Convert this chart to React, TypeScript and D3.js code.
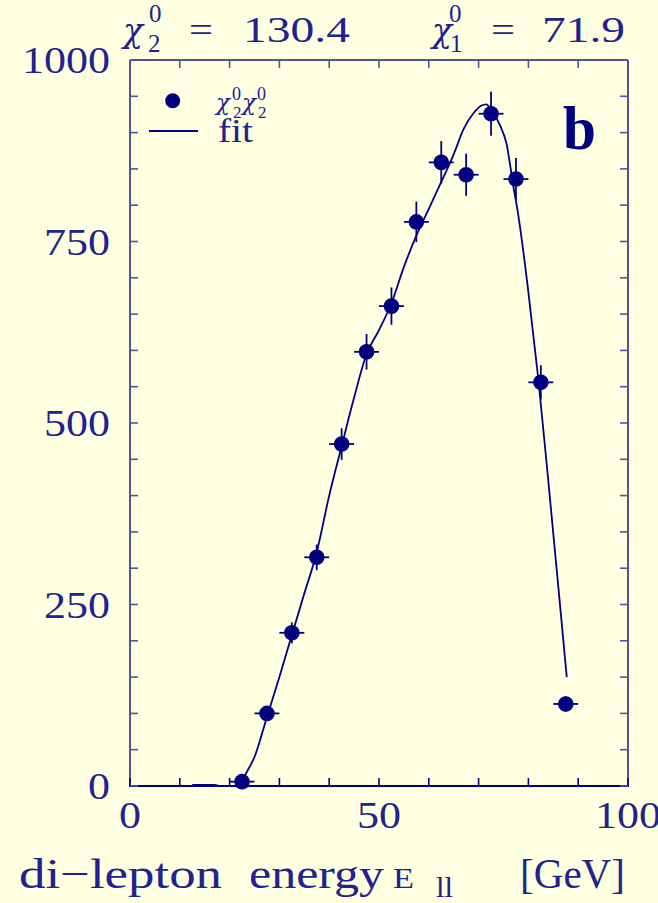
import React from "react";
import * as d3 from "d3";

// Di-lepton energy spectrum for chi2 chi2 production with fitted shape
const binCenters = [22.5, 27.5, 32.5, 37.5, 42.5, 47.5, 52.5, 57.5, 62.5, 67.5, 72.5, 77.5, 82.5, 87.5];
const binCounts = [6, 100, 211, 315, 471, 598, 661, 777, 859, 842, 926, 836, 556, 113];
const binHalfWidth = 2.5;

const fitEnergy = [12.5, 17, 18, 21, 22.5, 23.5, 25, 27.5, 30, 32.5, 35, 37.5, 40, 42.5, 45, 47.5, 50, 52.5, 55, 57.5, 60, 62.5, 65, 67, 69, 70.5, 71.5, 72.5, 74.3, 75.6, 77, 78, 80, 82, 84, 86, 87.7];
const fitCounts = [1.5, 1.5, 0, 0, 8, 20, 40, 95, 150, 208, 265, 322, 400, 468, 535, 595, 628, 665, 715, 758, 795, 832, 870, 905, 927, 937, 939, 932, 910, 885, 825, 785, 680, 560, 420, 275, 150];

const xTickLabels = ["0", "50", "100"];
const yTickLabels = ["0", "250", "500", "750", "1000"];

const W = 658;
const H = 903;
const INK = "#000080";
const TEXT = "#22228f";
const FRAME = "#5252a6";
const SERIF = "'Liberation Serif', 'Times New Roman', serif";
const GREEK = "'DejaVu Serif', serif";

export default function App() {
  const x = d3.scaleLinear().domain([0, 100]).range([130, 628]);
  const y = d3.scaleLinear().domain([0, 1000]).range([786, 60]);

  const fitLine = d3
    .line<number>()
    .x((_, i) => x(fitEnergy[i]))
    .y((d) => y(d))
    .curve(d3.curveMonotoneX)(fitCounts);

  const xMinor = d3.range(0, 101, 10);
  const yMinor = d3.range(0, 1001, 50);
  const tickLen = 8;
  const stretch = "spacingAndGlyphs";

  return (
    <svg
      width={W}
      height={H}
      style={{ position: "absolute", left: 0, top: 0, display: "block" }}
      fontFamily={SERIF}
    >
      <rect x={0} y={0} width={W} height={H} fill="#ffffe1" />

      {/* frame */}
      <line x1={x(0)} x2={x(0)} y1={y(0)} y2={y(1000)} stroke={FRAME} strokeWidth={2} />
      <line x1={x(0)} x2={x(100)} y1={y(1000)} y2={y(1000)} stroke={FRAME} strokeWidth={2} />
      <line x1={x(100)} x2={x(100)} y1={y(0)} y2={y(1000)} stroke={FRAME} strokeWidth={2} />
      <line x1={x(0) - 1} x2={x(100) + 1} y1={y(0)} y2={y(0)} stroke={INK} strokeWidth={2} />

      {/* ticks */}
      {xMinor.map((v) => (
        <g key={"xt" + v}>
          <line x1={x(v)} x2={x(v)} y1={y(0)} y2={y(0) - tickLen} stroke={INK} strokeWidth={1.6} />
          <line x1={x(v)} x2={x(v)} y1={y(1000)} y2={y(1000) + tickLen} stroke={FRAME} strokeWidth={1.6} />
        </g>
      ))}
      {yMinor.map((v) => (
        <g key={"yt" + v}>
          <line x1={x(0)} x2={x(0) + tickLen} y1={y(v)} y2={y(v)} stroke={FRAME} strokeWidth={1.6} />
          <line x1={x(100)} x2={x(100) - tickLen} y1={y(v)} y2={y(v)} stroke={FRAME} strokeWidth={1.6} />
        </g>
      ))}

      {/* tick labels */}
      {yTickLabels.map((t) => (
        <text
          key={"yl" + t}
          x={110}
          y={y(+t) + 13}
          textAnchor="end"
          fontSize={37}
          fill={TEXT}
          textLength={t.length * 22}
          lengthAdjust={stretch}
        >
          {t}
        </text>
      ))}
      {xTickLabels.map((t) => (
        <text
          key={"xl" + t}
          x={x(+t) - (t.length * 22) / 2}
          y={828}
          fontSize={37}
          fill={TEXT}
          textLength={t.length * 22}
          lengthAdjust={stretch}
        >
          {t}
        </text>
      ))}

      {/* axis title */}
      <g fill={TEXT}>
        <text x={19} y={888} fontSize={42} textLength={203} lengthAdjust={stretch}>
          di−lepton
        </text>
        <text x={249} y={888} fontSize={42} textLength={135} lengthAdjust={stretch}>
          energy
        </text>
        <text x={393} y={888} fontSize={30} textLength={21} lengthAdjust={stretch}>
          E
        </text>
        <text x={436} y={897} fontSize={30} textLength={17} lengthAdjust={stretch}>
          ll
        </text>
        <text x={520} y={888} fontSize={42} textLength={105} lengthAdjust={stretch}>
          [GeV]
        </text>
      </g>

      {/* masses above the frame */}
      <g fill={TEXT}>
        <text x={123} y={42} fontSize={33} fontStyle="italic" fontFamily={GREEK}>
          χ
          <tspan x={149} y={22} fontSize={25} fontStyle="normal" fontFamily={SERIF}>0</tspan>
          <tspan x={148} y={52} fontSize={25} fontStyle="normal" fontFamily={SERIF}>2</tspan>
        </text>
        <text x={189} y={42} fontSize={35} textLength={24} lengthAdjust={stretch}>=</text>
        <text x={243} y={42} fontSize={35} textLength={107} lengthAdjust={stretch}>
          130.4
        </text>

        <text x={432} y={42} fontSize={33} fontStyle="italic" fontFamily={GREEK}>
          χ
          <tspan x={449} y={22} fontSize={25} fontStyle="normal" fontFamily={SERIF}>0</tspan>
          <tspan x={450} y={52} fontSize={25} fontStyle="normal" fontFamily={SERIF}>1</tspan>
        </text>
        <text x={491} y={42} fontSize={35} textLength={24} lengthAdjust={stretch}>=</text>
        <text x={542} y={42} fontSize={35} textLength={83} lengthAdjust={stretch}>
          71.9
        </text>
      </g>

      {/* legend */}
      <circle cx={172.7} cy={100.7} r={7.5} fill={INK} />
      <line x1={149} x2={198} y1={131} y2={131} stroke={INK} strokeWidth={1.8} />
      <g fill={TEXT}>
        <text x={216} y={110} fontSize={23} fontStyle="italic" fontFamily={GREEK}>
          χ
          <tspan x={232} y={100} fontSize={18} fontStyle="normal" fontFamily={SERIF}>0</tspan>
          <tspan x={233} y={118} fontSize={17} fontStyle="normal" fontFamily={SERIF}>2</tspan>
          <tspan x={242} y={110} fontSize={23}>χ</tspan>
          <tspan x={257} y={100} fontSize={18} fontStyle="normal" fontFamily={SERIF}>0</tspan>
          <tspan x={258} y={118} fontSize={17} fontStyle="normal" fontFamily={SERIF}>2</tspan>
        </text>
        <text x={218} y={141.5} fontSize={33} textLength={35} lengthAdjust={stretch}>
          fit
        </text>
      </g>

      {/* panel label */}
      <text x={563} y={149} fontSize={62} fontWeight="bold" fill={INK} textLength={33} lengthAdjust={stretch}>
        b
      </text>

      {/* fitted curve */}
      <path d={fitLine ?? ""} fill="none" stroke={INK} strokeWidth={1.8} />

      {/* measured points with statistical errors */}
      {binCenters.map((e, i) => {
        const n = binCounts[i];
        const err = Math.sqrt(n);
        return (
          <g key={"pt" + i}>
            <line x1={x(e - binHalfWidth)} x2={x(e + binHalfWidth)} y1={y(n)} y2={y(n)} stroke={INK} strokeWidth={1.8} />
            <line x1={x(e)} x2={x(e)} y1={y(n - err)} y2={y(n + err)} stroke={INK} strokeWidth={1.8} />
            <circle cx={x(e)} cy={y(n)} r={7.8} fill={INK} />
          </g>
        );
      })}
    </svg>
  );
}
